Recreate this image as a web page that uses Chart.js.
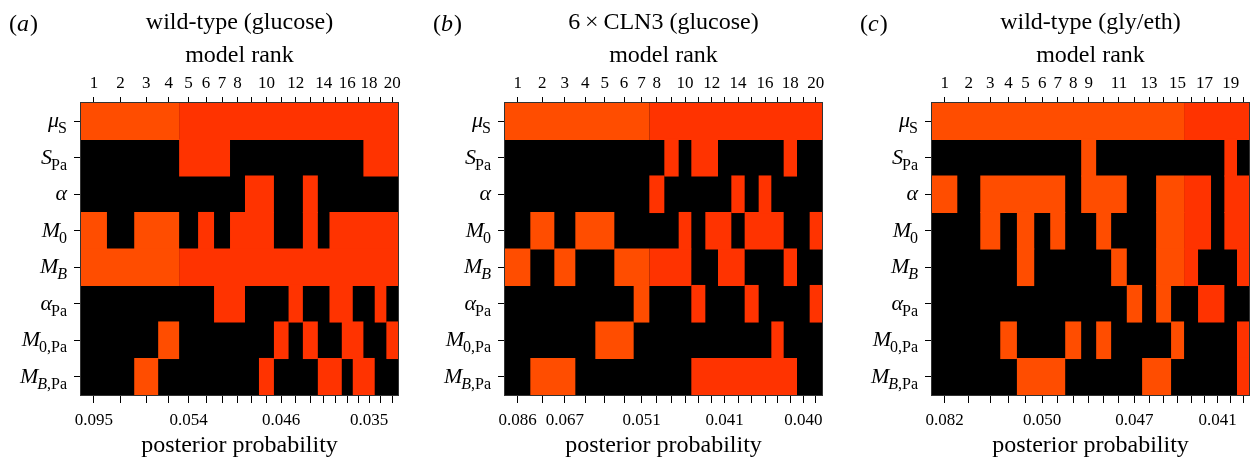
<!DOCTYPE html>
<html><head><meta charset="utf-8">
<script src="https://cdn.jsdelivr.net/npm/chart.js@4.4.1/dist/chart.umd.min.js"></script>
<style>
html,body{margin:0;padding:0;background:#fff;width:1252px;height:460px;overflow:hidden}
canvas{position:absolute;top:0}
</style></head><body>
<canvas id="ca" width="424" height="460" style="left:0"></canvas>
<canvas id="cb" width="427" height="460" style="left:424px"></canvas>
<canvas id="cc" width="401" height="460" style="left:851px"></canvas>
<script>
// ---------- data ----------
const paramKeys = ['mu_S','S_Pa','alpha','M_0','M_B','alpha_Pa','M_0,Pa','M_B,Pa'];
const paramMain = ['μ','S','α','M','M','α','M','M'];
const paramSubItalic = ['','','','','B','','','B'];
const paramSubUpright = ['S','Pa','','0','','Pa','0,Pa',',Pa'];

// panel (a) wild-type (glucose)
const titleA = 'wild-type (glucose)';
const weightA = [78,82,72,63,57,48,48,45,42,45,44,43,45,35,37,33,32,34,35,35];
const cellsA = [
  '11111111111111111111',
  '00001110000000000111',
  '00000000110010000000',
  '10110101110010111111',
  '11111111111111111111',
  '00000011000100110010',
  '00010000001010011001',
  '00100000010001101100'];
const lightColsA = 4;
const rankTicksA = [1,2,3,4,5,6,7,8,10,12,14,16,18,20];
const probRanksA = [1,5,11,18];
const probTextA = ['0.095','0.054','0.046','0.035'];

// panel (b) 6xCLN3 (glucose)
const titleB = '6\u2009×\u2009CLN3 (glucose)';
const weightB = [76,72,63,60,57,58,47,45,43,38,42,38,40,40,42,38,37,40,38,37];
const cellsB = [
  '11111111111111111111',
  '00000000101100000100',
  '00000001000001010000',
  '01011000010110111001',
  '10100111110011000100',
  '00000010001000100001',
  '00001100000000001000',
  '01100000001111111100'];
const lightColsB = 7;
const rankTicksB = [1,2,3,4,5,6,7,8,10,12,14,16,18,20];
const probRanksB = [1,3,7,13,19];
const probTextB = ['0.086','0.067','0.051','0.041','0.040'];

// panel (c) wild-type (gly/eth)
const titleC = 'wild-type (gly/eth)';
const weightC = [76,69,60,50,52,48,45,48,45,45,47,46,42,45,39,42,39,40,38,36];
const cellsC = [
  '11111111111111111111',
  '00000000100000000010',
  '10111110111001111011',
  '00101010010001111011',
  '00001000001001110001',
  '00000000000101001100',
  '00010001010000100001',
  '00001110000011000001'];
const lightColsC = 15;
const rankTicksC = [1,2,3,4,5,6,7,8,9,11,13,15,17,19];
const probRanksC = [1,6,12,18];
const probTextC = ['0.082','0.050','0.047','0.041'];

// ---------- styles ----------
const LIGHT = '#FF4D00';
const RED = '#FF3300';
const FONT = "'Liberation Serif', 'Times New Roman', serif";
Chart.defaults.font.family = FONT;
Chart.defaults.color = '#000';

const decor = {
  id: 'decor',
  beforeDatasetsDraw(chart) {
    const a = chart.chartArea, ctx = chart.ctx;
    ctx.save(); ctx.fillStyle = '#000';
    ctx.fillRect(a.left, a.top, a.right - a.left, a.bottom - a.top);
    ctx.restore();
  },
  afterDraw(chart, args, opts) {
    const a = chart.chartArea, ctx = chart.ctx, ys = chart.scales.y;
    ctx.save();
    ctx.strokeStyle = '#333'; ctx.lineWidth = 1;
    ctx.strokeRect(a.left - 0.5, a.top - 0.5, a.right - a.left + 1, a.bottom - a.top + 1);
    ctx.fillStyle = '#000'; ctx.textBaseline = 'alphabetic'; ctx.textAlign = 'left';
    // panel tag
    let x = 9; const by = 31;
    const up = '24px ' + FONT, it = 'italic 24px ' + FONT;
    ctx.font = up; ctx.fillText('(', x, by); x += ctx.measureText('(').width;
    ctx.font = it; ctx.fillText(opts.tag, x, by); x += ctx.measureText(opts.tag).width + 1;
    ctx.font = up; ctx.fillText(')', x, by);
    // parameter labels
    const R = a.left - 14;
    paramKeys.forEach((k, i) => {
      const cy = ys.getPixelForTick(i);
      const fMain = 'italic 22px ' + FONT, fSubI = 'italic 16px ' + FONT, fSubU = '16px ' + FONT;
      ctx.font = fSubI; const wi = ctx.measureText(paramSubItalic[i]).width;
      ctx.font = fSubU; const wu = ctx.measureText(paramSubUpright[i]).width;
      const subW = wi + wu;
      let sx = R - subW;
      ctx.font = fSubI; ctx.fillText(paramSubItalic[i], sx, cy + 12);
      ctx.font = fSubU; ctx.fillText(paramSubUpright[i], sx + wi, cy + 12);
      ctx.font = fMain; const wm = ctx.measureText(paramMain[i]).width;
      ctx.fillText(paramMain[i], sx - wm + (subW > 0 ? 1 : 0), cy + 6);
    });
    ctx.restore();
  }
};

function makePanel(canvasId, tag, title, weights, cells, lightCount, rankTicks, probRanks, probText, rightPad) {
  const n = weights.length;
  const edges = [0];
  weights.forEach(w => edges.push(edges[edges.length - 1] + w));
  const total = edges[n];
  const centers = weights.map((w, i) => (edges[i] + edges[i + 1]) / 2);
  const colColor = j => (j < lightCount ? LIGHT : RED);
  const rowRuns = cells.map(row => {
    const runs = []; let j = 0;
    while (j < n) {
      if (row[j] === '1') {
        const c = colColor(j); let k = j;
        while (k + 1 < n && row[k + 1] === '1' && colColor(k + 1) === c) k++;
        runs.push({ s: edges[j], e: edges[k + 1], c });
        j = k + 1;
      } else j++;
    }
    return runs;
  });
  const maxRuns = Math.max(...rowRuns.map(r => r.length));
  const datasets = [];
  for (let k = 0; k < maxRuns; k++) {
    datasets.push({
      data: rowRuns.map(r => (r[k] ? [r[k].s, r[k].e] : null)),
      backgroundColor: rowRuns.map(r => (r[k] ? r[k].c : 'rgba(0,0,0,0)')),
      borderWidth: 0, borderSkipped: false, grouped: false,
      barPercentage: 1.03, categoryPercentage: 1, clip: 0
    });
  }
  const setTicks = s => { s.ticks = centers.map(v => ({ value: v })); };
  return new Chart(document.getElementById(canvasId), {
    type: 'bar',
    data: { labels: paramKeys, datasets },
    options: {
      indexAxis: 'y', responsive: false, animation: false, events: [],
      layout: { padding: { left: 0, right: rightPad, top: 0, bottom: 0 } },
      plugins: { legend: { display: false }, tooltip: { enabled: false }, title: { display: false }, decor: { tag } },
      scales: {
        x: {
          type: 'linear', position: 'bottom', min: 0, max: total, offset: false,
          afterBuildTicks: setTicks,
          ticks: { autoSkip: false, maxRotation: 0, minRotation: 0, padding: 7, color: '#000',
            font: { size: 17 },
            callback: (v, i) => { const q = probRanks.indexOf(i + 1); return q >= 0 ? probText[q] : ''; } },
          grid: { drawOnChartArea: false, drawTicks: true, tickLength: 8, color: '#000', lineWidth: 1 },
          border: { display: false },
          title: { display: true, text: 'posterior probability', color: '#000', font: { size: 24, lineHeight: 1.2 }, padding: { top: 0, bottom: 0 } },
          afterFit: s => { s.height = 65; s.paddingLeft = 0; s.paddingRight = 0; }
        },
        x2: {
          type: 'linear', axis: 'x', position: 'top', min: 0, max: total, offset: false,
          afterBuildTicks: setTicks,
          ticks: { autoSkip: false, maxRotation: 0, minRotation: 0, padding: 3, color: '#000',
            font: { size: 17 },
            callback: (v, i) => (rankTicks.includes(i + 1) ? String(i + 1) : '') },
          grid: { drawOnChartArea: false, drawTicks: true, tickLength: 6, color: '#000', lineWidth: 1 },
          border: { display: false },
          title: { display: true, text: [title, 'model rank'], color: '#000', font: { size: 24, lineHeight: 1.375 }, padding: { top: 6, bottom: 0 } },
          afterFit: s => { s.height = 103; s.paddingLeft = 0; s.paddingRight = 0; }
        },
        y: {
          type: 'category', position: 'left', offset: true,
          ticks: { autoSkip: false, callback: () => '', padding: 0 },
          grid: { offset: false, drawOnChartArea: false, drawTicks: true, tickLength: 7, color: '#000', lineWidth: 1 },
          border: { display: false },
          afterFit: s => { s.width = 81; s.paddingTop = 0; s.paddingBottom = 0; }
        }
      }
    },
    plugins: [decor]
  });
}

makePanel('ca', 'a', titleA, weightA, cellsA, lightColsA, rankTicksA, probRanksA, probTextA, 26);
makePanel('cb', 'b', titleB, weightB, cellsB, lightColsB, rankTicksB, probRanksB, probTextB, 29);
makePanel('cc', 'c', titleC, weightC, cellsC, lightColsC, rankTicksC, probRanksC, probTextC, 3);
</script>
</body></html>
